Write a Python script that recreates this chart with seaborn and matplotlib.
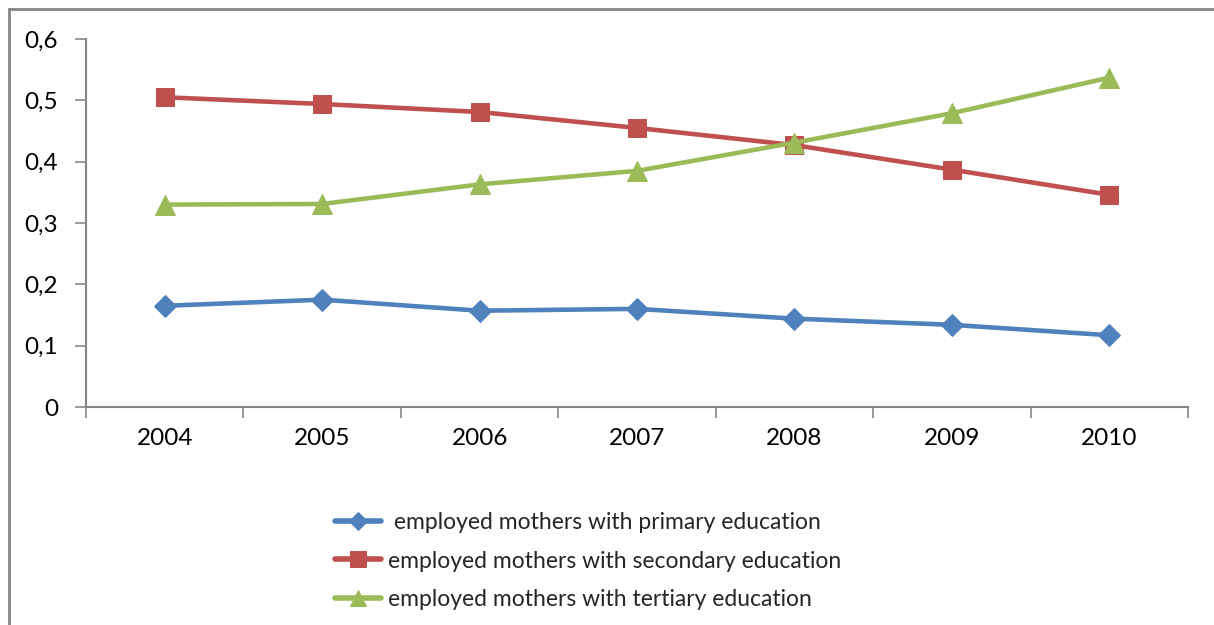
import numpy as np
import pandas as pd
import matplotlib
matplotlib.use('Agg')
import matplotlib.pyplot as plt
import matplotlib.patches as patches
import seaborn as sns

# --- Dane ---
years = ['2004', '2005', '2006', '2007', '2008', '2009', '2010']
primary = [0.165, 0.175, 0.157, 0.160, 0.144, 0.134, 0.117]
secondary = [0.505, 0.494, 0.481, 0.455, 0.427, 0.387, 0.346]
tertiary = [0.330, 0.331, 0.363, 0.385, 0.431, 0.479, 0.537]

labels = [' employed mothers with primary education',
          'employed mothers with secondary education',
          'employed mothers with tertiary education']
colors = ['#4F81BD', '#C0504D', '#9BBB59']
markers = ['D', 's', '^']
msizes = [11, 13, 14]

yticks = [0, 0.1, 0.2, 0.3, 0.4, 0.5, 0.6]
ytick_labels = ['0', '0,1', '0,2', '0,3', '0,4', '0,5', '0,6']

sns.set_theme(style='white')
plt.rcParams['font.family'] = ['Lato', 'DejaVu Sans']

W, H = 1214, 625
fig = plt.figure(figsize=(W / 100, H / 100), dpi=100)
ax = fig.add_axes([86 / W, 1 - 407 / H, (1188 - 86) / W, (407 - 39) / H])

# --- Wykres liniowy ---
for vals, lab, col, mk, ms in zip([primary, secondary, tertiary], labels, colors, markers, msizes):
    sns.lineplot(x=years, y=vals, ax=ax, color=col, marker=mk, markersize=ms,
                 markeredgecolor=col, linewidth=3.3, label=lab, sort=False)

# --- Osie ---
gray = '#868686'
ax.set_xlim(-0.5, len(years) - 0.5)
ax.set_ylim(0, 0.6)
ax.set_yticks(yticks)
ax.set_yticklabels(ytick_labels)
ax.set_xticks(np.arange(len(years)))
ax.set_xticklabels(years)
ax.set_xticks(np.arange(len(years) + 1) - 0.5, minor=True)
ax.tick_params(axis='x', which='major', length=0, pad=15, labelsize=17.5, colors='black')
ax.tick_params(axis='x', which='minor', length=8, width=1.2, color=gray, direction='out', bottom=True)
ax.tick_params(axis='y', length=8, width=1.2, color=gray, direction='out', left=True, pad=12,
               labelsize=17.5, labelcolor='black')
for side in ['top', 'right']:
    ax.spines[side].set_visible(False)
for side in ['left', 'bottom']:
    ax.spines[side].set_color(gray)
    ax.spines[side].set_linewidth(1.5)
ax.set_xlabel('')
ax.set_ylabel('')

# --- Legenda ---
ax.get_legend().remove()
handles, labs = ax.get_legend_handles_labels()
leg = fig.legend(handles, labs, loc='center left', bbox_to_anchor=(335 / W, 1 - 561 / H),
                 frameon=False, fontsize=16.5, borderpad=0, borderaxespad=0,
                 handlelength=2.0, handletextpad=0.3, labelspacing=0.75, markerscale=0.85)
for ln in leg.get_lines():
    ln.set_linewidth(4)

# ramka wykresu
fig.patches.append(patches.Rectangle((9 / W, -0.1), 2, 1.1 - 9 / H, transform=fig.transFigure,
                                     fill=False, edgecolor=gray, linewidth=2))

fig.savefig('out.png', dpi=100)
